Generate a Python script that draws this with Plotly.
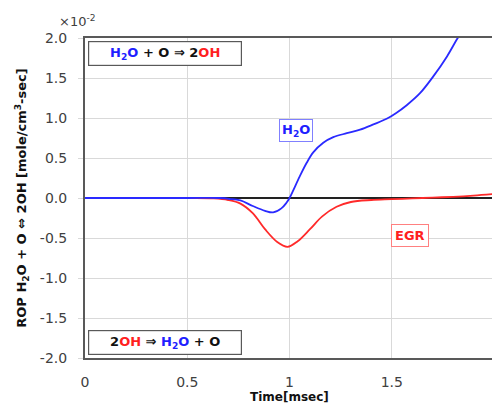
import plotly.graph_objects as go

time_ms = [0.0, 0.5, 0.66, 0.72, 0.76, 0.82, 0.88, 0.92, 0.96, 0.985, 1.0, 1.05, 1.084, 1.116, 1.165, 1.214,
           1.28, 1.345, 1.41, 1.475, 1.52, 1.573, 1.638, 1.703, 1.77, 1.82, 1.86]
h2o = [0.0, 0.0, 0.0, -0.015, -0.03, -0.10, -0.16, -0.18, -0.13, -0.06, 0.0, 0.27, 0.44, 0.57, 0.69, 0.76,
       0.81, 0.855, 0.92, 0.99, 1.06, 1.16, 1.31, 1.52, 1.77, 1.99, 2.15]
egr_t = [0.0, 0.5, 0.63, 0.70, 0.76, 0.82, 0.88, 0.94, 0.99, 1.04, 1.10, 1.16, 1.23, 1.30, 1.40, 1.50,
         1.60, 1.70, 1.80, 1.90, 2.0]
egr = [0.0, 0.0, -0.005, -0.025, -0.07, -0.19, -0.39, -0.55, -0.61, -0.54, -0.39, -0.23, -0.11, -0.05, -0.025,
       -0.015, -0.005, 0.005, 0.015, 0.03, 0.05]

x_ticks = [0, 0.5, 1, 1.5]
x_tick_text = ["0", "0.5", "1", "1.5"]
y_ticks = [-2.0, -1.5, -1.0, -0.5, 0.0, 0.5, 1.0, 1.5, 2.0]
y_tick_text = ["-2.0", "-1.5", "-1.0", "-0.5", "0.0", "0.5", "1.0", "1.5", "2.0"]

FONT = "DejaVu Sans"
BLUE = "#1f1fff"
RED = "#ff1f1f"

fig = go.Figure()
fig.add_trace(go.Scatter(x=egr_t, y=egr, mode="lines", line=dict(color="#ff2a2a", width=1.8, shape="spline"),
                         showlegend=False))
fig.add_trace(go.Scatter(x=time_ms, y=h2o, mode="lines", line=dict(color="#2a2aff", width=1.8, shape="spline"),
                         showlegend=False))

fig.update_layout(
    width=492, height=403,
    margin=dict(l=85, r=0, t=38, b=45),
    plot_bgcolor="white", paper_bgcolor="white",
    font=dict(family=FONT, color="#404040"),
    xaxis=dict(range=[0, 1.99], tickvals=x_ticks, ticktext=x_tick_text, showgrid=True, gridcolor="#d9d9d9",
               gridwidth=1, zeroline=False, showline=True, linecolor="#595959", linewidth=2, mirror=True,
               ticks="", tickfont=dict(size=14, family=FONT, color="#404040"), ticklabelstandoff=10),
    yaxis=dict(range=[-2.0, 2.0], tickvals=y_ticks, ticktext=y_tick_text, showgrid=True, gridcolor="#d9d9d9",
               gridwidth=1, zeroline=True, zerolinecolor="#222222", zerolinewidth=1.5, showline=True,
               linecolor="#595959", linewidth=2, mirror=False, ticks="outside", ticklen=5, tickcolor="#d9d9d9",
               tickfont=dict(size=14, family=FONT, color="#404040"), ticklabelstandoff=8,
               title=dict(text="ROP H<sub>2</sub>O + O ⇔ 2OH [mole/cm<sup>3</sup>-sec]",
                          font=dict(size=13, family=FONT, color="#111111", weight="bold"), standoff=10)),
)

annotations = [
    dict(x=2.0, y=0, xref="x", yref="paper", text="2", showarrow=False, yshift=-20,
         font=dict(size=14, family=FONT, color="#404040"), xanchor="center", yanchor="middle"),
    dict(x=1.0, y=0, xref="x", yref="paper", text="<b>Time[msec]</b>", showarrow=False, yshift=-39,
         font=dict(size=12, family=FONT, color="#111111"), xanchor="center", yanchor="middle"),
    dict(x=(77 - 85) / 407, y=1 + (38 - 21) / 320, xref="paper", yref="paper", text="×10<sup>-2</sup>",
         showarrow=False, font=dict(size=13, family=FONT, color="#404040"), xanchor="center", yanchor="middle"),
    dict(x=0.39, y=1.81, xref="x", yref="y",
         text=f"<b><span style='color:{BLUE}'>H<sub>2</sub>O</span> + O ⇒ 2<span style='color:{RED}'>OH</span></b>",
         showarrow=False, bordercolor="#595959", borderwidth=1.2, borderpad=3, bgcolor="white",
         font=dict(size=13, family=FONT, color="#111111"), width=146),
    dict(x=0.39, y=-1.8, xref="x", yref="y",
         text=f"<b>2<span style='color:{RED}'>OH</span> ⇒ <span style='color:{BLUE}'>H<sub>2</sub>O</span> + O</b>",
         showarrow=False, bordercolor="#595959", borderwidth=1.2, borderpad=3, bgcolor="white",
         font=dict(size=13, family=FONT, color="#111111"), width=146),
    dict(x=1.03, y=0.85, xref="x", yref="y", text="<b>H<sub>2</sub>O</b>", showarrow=False,
         bordercolor="#8080ff", borderwidth=1, borderpad=2, bgcolor="white",
         font=dict(size=13, family=FONT, color=BLUE)),
    dict(x=1.59, y=-0.47, xref="x", yref="y", text="<b>EGR</b>", showarrow=False,
         bordercolor="#ff8080", borderwidth=1, borderpad=3, bgcolor="white",
         font=dict(size=13, family=FONT, color=RED)),
]
fig.update_layout(annotations=annotations)

fig.write_html("out.html")
